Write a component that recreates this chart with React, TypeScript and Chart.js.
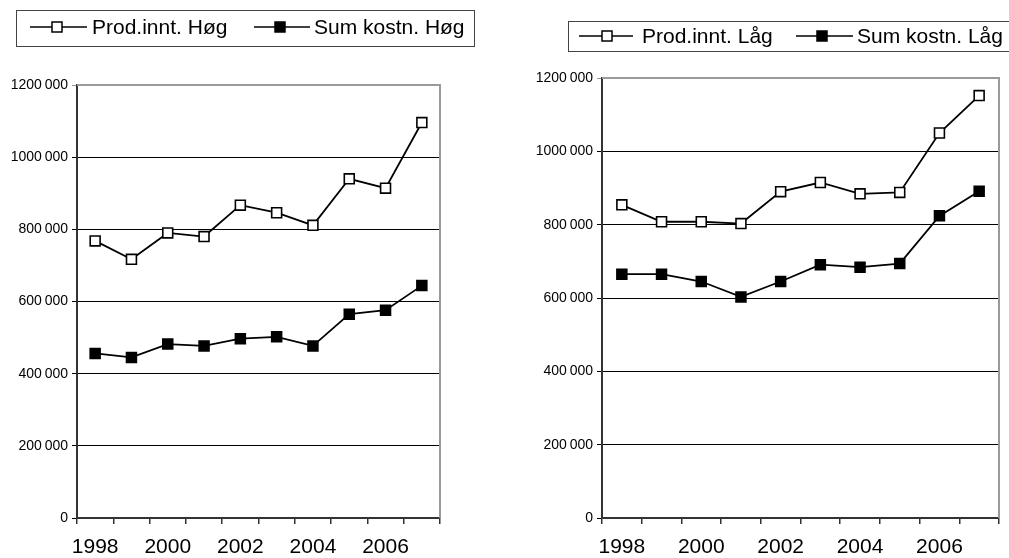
import React, { useEffect, useRef } from "react";
import { Chart, registerables } from "chart.js";

Chart.register(...registerables);

const years = ["1998", "1999", "2000", "2001", "2002", "2003", "2004", "2005", "2006", "2007"];

const prodInntHog = [768000, 717000, 790000, 780000, 867000, 846000, 811000, 940000, 914000, 1096000];
const sumKostnHog = [456000, 445000, 482000, 477000, 497000, 502000, 477000, 565000, 576000, 644000];

const prodInntLag = [854000, 808000, 808000, 803000, 890000, 915000, 884000, 888000, 1050000, 1152000];
const sumKostnLag = [665000, 665000, 645000, 603000, 645000, 691000, 684000, 694000, 824000, 891000];

const yMax = 1200000;
const yStep = 200000;

const FONT = "'Liberation Sans', Arial, sans-serif";

function fmt(v: number): string {
  if (v < 1000) return String(v);
  const th = Math.floor(v / 1000);
  const rest = String(v % 1000).padStart(3, "0");
  return th + "\u2009" + rest;
}

type LegendCfg = {
  box: { x: number; y: number; w: number; h: number };
  cy: number;
  items: { x1: number; x2: number; mx: number; tx: number; filled: boolean; label: string }[];
};

function makeChart(
  canvas: HTMLCanvasElement,
  names: [string, string],
  a: number[],
  b: number[],
  yWidth: number,
  padRight: number,
  padTop: number,
  legend: LegendCfg
) {
  const framePlugin = {
    id: "frame",
    beforeDatasetsDraw(chart: any) {
      const { ctx, chartArea } = chart;
      ctx.save();
      ctx.strokeStyle = "#9a9a9a";
      ctx.lineWidth = 2;
      ctx.beginPath();
      ctx.moveTo(chartArea.left, chartArea.top);
      ctx.lineTo(chartArea.right, chartArea.top);
      ctx.lineTo(chartArea.right, chartArea.bottom);
      ctx.stroke();
      ctx.restore();
    },
    afterDraw(chart: any) {
      const ctx = chart.ctx;
      ctx.save();
      ctx.strokeStyle = "#444";
      ctx.lineWidth = 1;
      const bx = legend.box;
      ctx.strokeRect(bx.x + 0.5, bx.y + 0.5, bx.w, bx.h);
      ctx.font = "21px " + FONT;
      ctx.textBaseline = "middle";
      ctx.fillStyle = "#000";
      for (const it of legend.items) {
        ctx.strokeStyle = "#000";
        ctx.lineWidth = 1.5;
        ctx.beginPath();
        ctx.moveTo(it.x1, legend.cy);
        ctx.lineTo(it.x2, legend.cy);
        ctx.stroke();
        const s = 10;
        ctx.fillStyle = it.filled ? "#000" : "#fff";
        ctx.fillRect(it.mx - s / 2, legend.cy - s / 2, s, s);
        ctx.strokeRect(it.mx - s / 2, legend.cy - s / 2, s, s);
        ctx.fillStyle = "#000";
        ctx.fillText(it.label, it.tx, legend.cy + 1);
      }
      ctx.restore();
    },
  };

  return new Chart(canvas, {
    type: "line",
    data: {
      labels: years,
      datasets: [
        {
          label: names[0],
          data: a,
          borderColor: "#000",
          borderWidth: 1.8,
          pointStyle: "rect",
          pointRadius: 7,
          pointBorderWidth: 1.6,
          pointBackgroundColor: "#fff",
          pointBorderColor: "#000",
          tension: 0,
        },
        {
          label: names[1],
          data: b,
          borderColor: "#000",
          borderWidth: 1.8,
          pointStyle: "rect",
          pointRadius: 7,
          pointBorderWidth: 1.6,
          pointBackgroundColor: "#000",
          pointBorderColor: "#000",
          tension: 0,
        },
      ],
    },
    options: {
      responsive: false,
      animation: false,
      events: [],
      layout: { padding: { left: 0, right: padRight, top: padTop, bottom: 0 } },
      plugins: { legend: { display: false }, tooltip: { enabled: false } },
      scales: {
        x: {
          offset: true,
          grid: {
            offset: true,
            drawOnChartArea: false,
            drawTicks: true,
            tickLength: 6,
            color: "#333",
            lineWidth: 1.5,
          },
          border: { display: true, color: "#333", width: 2 },
          ticks: {
            autoSkip: false,
            maxRotation: 0,
            minRotation: 0,
            padding: 11,
            color: "#000",
            font: { family: FONT, size: 21 },
            callback: (_v: any, i: number) => (i % 2 === 0 ? years[i] : ""),
          },
          afterFit: (s: any) => {
            s.height = 40;
          },
        },
        y: {
          min: 0,
          max: yMax,
          ticks: {
            stepSize: yStep,
            color: "#000",
            padding: 4,
            font: { family: FONT, size: 14 },
            callback: (v: any) => fmt(Number(v)),
          },
          grid: {
            drawTicks: true,
            tickLength: 5,
            color: (c: any) => (c.tick && c.tick.value === yMax ? "#9a9a9a" : "#000"),
            lineWidth: 1,
          },
          border: { display: true, color: "#333", width: 2 },
          afterFit: (s: any) => {
            s.width = yWidth;
          },
        },
      },
    },
    plugins: [framePlugin],
  });
}

export default function App() {
  const leftRef = useRef<HTMLCanvasElement>(null);
  const rightRef = useRef<HTMLCanvasElement>(null);

  useEffect(() => {
    const c1 = makeChart(
      leftRef.current!,
      ["Prod.innt. Høg", "Sum kostn. Høg"],
      prodInntHog,
      sumKostnHog,
      77,
      60,
      85,
      {
        box: { x: 16, y: 10, w: 458, h: 36 },
        cy: 27,
        items: [
          { x1: 30, x2: 87, mx: 57, tx: 92, filled: false, label: "Prod.innt. Høg" },
          { x1: 254, x2: 310, mx: 280, tx: 314, filled: true, label: "Sum kostn. Høg" },
        ],
      }
    );
    const c2 = makeChart(
      rightRef.current!,
      ["Prod.innt. Låg", "Sum kostn. Låg"],
      prodInntLag,
      sumKostnLag,
      93,
      10,
      78,
      {
        box: { x: 568 - 509, y: 21, w: 460, h: 30 },
        cy: 36,
        items: [
          { x1: 579 - 509, x2: 633 - 509, mx: 607 - 509, tx: 642 - 509, filled: false, label: "Prod.innt. Låg" },
          { x1: 796 - 509, x2: 853 - 509, mx: 822 - 509, tx: 857 - 509, filled: true, label: "Sum kostn. Låg" },
        ],
      }
    );
    return () => {
      c1.destroy();
      c2.destroy();
    };
  }, []);

  return (
    <div style={{ position: "absolute", left: 0, top: 0, width: 1009, height: 558, background: "#fff", overflow: "hidden" }}>
      <canvas ref={leftRef} width={500} height={558} style={{ position: "absolute", left: 0, top: 0 }} />
      <canvas ref={rightRef} width={500} height={558} style={{ position: "absolute", left: 509, top: 0 }} />
    </div>
  );
}
